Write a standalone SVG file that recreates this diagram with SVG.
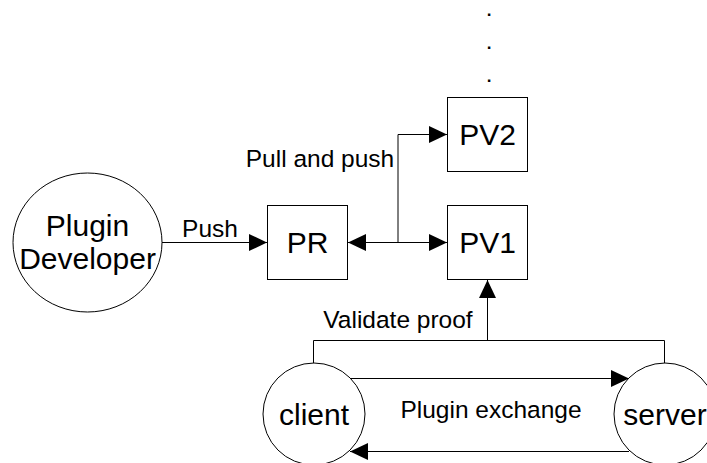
<svg xmlns="http://www.w3.org/2000/svg" width="707" height="463" viewBox="0 0 707 463">
  <style>
    .shape { fill: #ffffff; stroke: #000000; stroke-width: 1; }
    .edge { fill: none; stroke: #000000; stroke-width: 1; }
    .label { font-family: "Liberation Sans", Arial, sans-serif; font-size: 30px; fill: #000000; text-anchor: middle; }
    .elabel { font-family: "Liberation Sans", Arial, sans-serif; font-size: 24.5px; fill: #000000; text-anchor: middle; }
    .dots { font-family: "Liberation Sans", Arial, sans-serif; font-size: 17px; font-weight: bold; fill: #000000; text-anchor: middle; }
  </style>
  <defs>
    <marker id="arrow" markerUnits="userSpaceOnUse" markerWidth="18" markerHeight="17" refX="18" refY="8.5" orient="auto-start-reverse">
      <path d="M0,0 L18,8.5 L0,17 z" fill="#000000"/>
    </marker>
  </defs>

  <rect width="707" height="463" fill="#ffffff"/>

  <!-- connectors -->
  <g id="connectors">
    <path class="edge" d="M162,242.5 L267,242.5" marker-end="url(#arrow)"/>
    <path class="edge" d="M348,242.5 L447,242.5" marker-start="url(#arrow)" marker-end="url(#arrow)"/>
    <path class="edge" d="M398,242.5 L398,134.5 L447,134.5" marker-end="url(#arrow)"/>
    <path class="edge" d="M313.5,363 L313.5,340.5 L664.5,340.5 L664.5,363"/>
    <path class="edge" d="M487.5,340.5 L487.5,280" marker-end="url(#arrow)"/>
    <path class="edge" d="M350,378.5 L629,378.5" marker-end="url(#arrow)"/>
    <path class="edge" d="M629,451.5 L350,451.5" marker-end="url(#arrow)"/>
    <text class="elabel" x="210" y="237">Push</text>
    <text class="elabel" x="320" y="167">Pull and push</text>
    <text class="elabel" x="398" y="328">Validate proof</text>
    <text class="elabel" x="491" y="418">Plugin exchange</text>
  </g>

  <!-- nodes -->
  <g id="developer">
    <ellipse class="shape" cx="87.5" cy="242.5" rx="74.5" ry="69.5"/>
    <text class="label" x="87.5" y="236">Plugin</text>
    <text class="label" x="87.5" y="269">Developer</text>
  </g>
  <g id="pr">
    <rect class="shape" x="267.5" y="205.5" width="80" height="74"/>
    <text class="label" x="307.5" y="253">PR</text>
  </g>
  <g id="pv1">
    <rect class="shape" x="447.5" y="205.5" width="80" height="74"/>
    <text class="label" x="487.5" y="253">PV1</text>
  </g>
  <g id="pv2">
    <rect class="shape" x="447.5" y="97.5" width="80" height="74"/>
    <text class="label" x="487.5" y="145">PV2</text>
  </g>
  <g id="more">
    <text class="dots" x="489" y="16">.</text>
    <text class="dots" x="489" y="49">.</text>
    <text class="dots" x="489" y="82">.</text>
  </g>
  <g id="client">
    <circle class="shape" cx="314" cy="414" r="51"/>
    <text class="label" x="314" y="425">client</text>
  </g>
  <g id="server">
    <circle class="shape" cx="665" cy="414" r="51"/>
    <text class="label" x="665" y="425">server</text>
  </g>
</svg>
